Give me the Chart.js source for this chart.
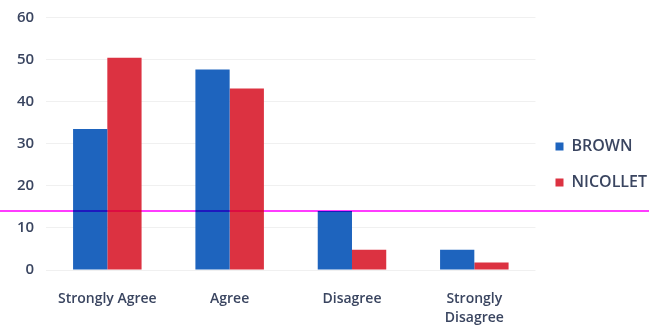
<!DOCTYPE html>
<html>
<head>
  <title>Survey responses</title>
  <script src="https://cdn.jsdelivr.net/npm/chart.js"></script>
  <style>
    body { margin: 0; background: #fff; }
    #wrap { width: 649px; height: 329px; }
  </style>
</head>
<body>
<div id="wrap"><canvas id="myChart"></canvas></div>

<script>
  // answers on the x axis
  const categories = ['Strongly Agree', 'Agree', 'Disagree', ['Strongly', 'Disagree']];
  // percent of responses per school
  const brown = [33.5, 47.6, 14, 4.8];
  const nicollet = [50.4, 43.1, 4.8, 1.8];
  const yTicks = [0, 10, 20, 30, 40, 50, 60];
  // level of the horizontal marker line
  const markerLevel = 14;

  const textColor = '#3a4560';

  // magenta marker across the whole picture
  const markerLine = {
    id: 'markerLine',
    afterDatasetsDraw(chart) {
      const ctx = chart.ctx;
      const y = chart.scales.y.getPixelForValue(markerLevel);
      ctx.save();
      ctx.globalCompositeOperation = 'multiply';
      ctx.strokeStyle = '#ff3cff';
      ctx.lineWidth = 2;
      ctx.beginPath();
      ctx.moveTo(0, y);
      ctx.lineTo(chart.width, y);
      ctx.stroke();
      ctx.restore();
    }
  };

  const ctx = document.getElementById('myChart').getContext('2d');
  const myChart = new Chart(ctx, {
    type: 'bar',
    data: {
      labels: categories,
      datasets: [{
        label: 'BROWN',
        data: brown,
        backgroundColor: '#1e64be',
        categoryPercentage: 0.56,
        barPercentage: 1
      }, {
        label: 'NICOLLET',
        data: nicollet,
        backgroundColor: '#dc3241',
        categoryPercentage: 0.56,
        barPercentage: 1
      }]
    },
    options: {
      responsive: true,
      maintainAspectRatio: false,
      animation: false,
      layout: { padding: { top: 0, left: 5, right: -8, bottom: 0 } },
      plugins: {
        tooltip: { enabled: false },
        legend: {
          position: 'right',
          labels: {
            boxWidth: 8,
            boxHeight: 8,
            padding: 20,
            color: textColor,
            font: { family: 'Open Sans', size: 16, weight: '600' }
          }
        }
      },
      scales: {
        x: {
          grid: { display: false },
          border: { display: false },
          afterFit(scale) { scale.height = 59; },
          ticks: {
            color: textColor,
            padding: 12,
            font: { family: 'Open Sans', size: 14, weight: '600', lineHeight: 1.35 }
          }
        },
        y: {
          min: 0,
          max: 60,
          afterBuildTicks(axis) {
            axis.ticks = yTicks.map(v => ({ value: v }));
          },
          grid: { color: '#f0f0f0', drawTicks: false },
          border: { display: false },
          ticks: {
            color: textColor,
            padding: 12,
            font: { family: 'Open Sans', size: 15, weight: '600', lineHeight: 0.7 }
          }
        }
      }
    },
    plugins: [markerLine]
  });
</script>
</body>
</html>
